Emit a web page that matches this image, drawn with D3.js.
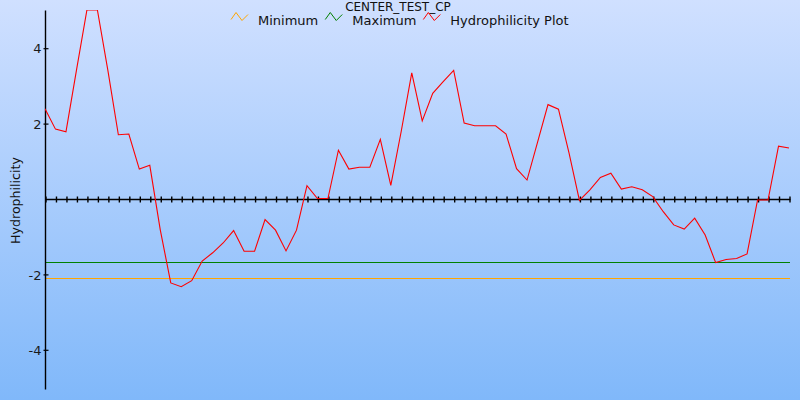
<!DOCTYPE html>
<html>
<head>
<meta charset="utf-8">
<script src="https://cdn.jsdelivr.net/npm/d3@7"></script>
<style>
  html, body { margin: 0; padding: 0; background: #fff; }
  svg { display: block; font-family: "DejaVu Sans", sans-serif; }
</style>
</head>
<body>
<svg id="chart" width="800" height="400"></svg>
<script>
const title = "CENTER_TEST_CP";
const yLabel = "Hydrophilicity";
const seriesNames = ["Minimum", "Maximum", "Hydrophilicity Plot"];
const seriesColors = ["#ffa500", "#008000", "#ff0000"];
const yTicks = [-4, -2, 2, 4];
const yDomain = [-5, 5];
const minimumValue = -2.12;
const maximumValue = -1.69;
const hydro = [
  2.38, 1.84, 1.77, 3.40, 5.00, 5.00, 3.40, 1.69, 1.71, 0.78,
  0.88, -0.83, -2.24, -2.34, -2.18, -1.66, -1.44, -1.18, -0.85, -1.40,
  -1.40, -0.56, -0.84, -1.39, -0.84, 0.34, 0.00, 0.00, 1.28, 0.78,
  0.83, 0.83, 1.57, 0.35, 1.79, 3.33, 2.06, 2.79, 3.10, 3.40,
  2.00, 1.93, 1.93, 1.93, 1.71, 0.79, 0.49, 1.49, 2.49, 2.37,
  1.22, -0.05, 0.23, 0.56, 0.67, 0.25, 0.31, 0.23, 0.05, -0.35,
  -0.70, -0.81, -0.52, -0.97, -1.70, -1.62, -1.59, -1.47, -0.04, -0.04,
  1.39, 1.34
];
const indices = hydro.map((d, i) => i);

const svg = d3.select("#chart");
const W = 800, H = 400;

// background gradient
const defs = svg.append("defs");
const grad = defs.append("linearGradient").attr("id", "bg").attr("x1", 0).attr("y1", 0).attr("x2", 0).attr("y2", 1);
grad.append("stop").attr("offset", "0%").attr("stop-color", "#d0e0ff");
grad.append("stop").attr("offset", "100%").attr("stop-color", "#80b8fa");
svg.append("rect").attr("width", W).attr("height", H).attr("fill", "url(#bg)");

const x = d3.scaleLinear().domain([0, hydro.length - 1]).range([45, 789]);
const y = d3.scaleLinear().domain(yDomain).range([387, 10]);

defs.append("clipPath").attr("id", "plot").append("rect")
  .attr("x", 45).attr("y", 10).attr("width", 750).attr("height", 377);

// threshold lines
svg.append("line").attr("x1", x(0)).attr("x2", 790)
  .attr("y1", Math.round(y(minimumValue)) + 0.5).attr("y2", Math.round(y(minimumValue)) + 0.5)
  .attr("stroke", seriesColors[0]).attr("stroke-width", 1.2);
svg.append("line").attr("x1", x(0)).attr("x2", 790)
  .attr("y1", Math.round(y(maximumValue)) + 0.5).attr("y2", Math.round(y(maximumValue)) + 0.5)
  .attr("stroke", seriesColors[1]).attr("stroke-width", 1.2);

// x axis at zero
const xAxis = d3.axisBottom(x).tickValues(indices).tickFormat("").tickSizeInner(3).tickSizeOuter(0);
const xg = svg.append("g").attr("transform", `translate(0.5,${Math.round(y(0)) + 0.5})`).call(xAxis);
xg.select(".domain").attr("stroke", "#000").attr("stroke-width", 1.6).attr("d", `M${x(0)},0H790`);
xg.selectAll(".tick line").attr("y1", -3).attr("y2", 3).attr("stroke", "#000").attr("stroke-width", 1.4);

// y axis
const yAxis = d3.axisLeft(y).tickValues(yTicks).tickFormat(d => String(d)).tickSizeInner(3).tickSizeOuter(0);
const yg = svg.append("g").attr("transform", `translate(${x(0) + 0.5},0.5)`).call(yAxis);
yg.select(".domain").attr("stroke", "#000").attr("stroke-width", 1.4).attr("d", "M0,10V389");
yg.selectAll(".tick line").attr("x1", -2).attr("x2", 3).attr("stroke", "#000").attr("stroke-width", 1.2);
yg.selectAll(".tick text").attr("x", -4).attr("font-size", 13).attr("font-family", "DejaVu Sans")
  .attr("fill", "#1a1a1a").attr("dy", "0.36em");

// y label
svg.append("text").attr("transform", `translate(20,${(y(0) + 2)}) rotate(-90)`)
  .attr("text-anchor", "middle").attr("font-size", 12.6).attr("fill", "#111")
  .text(yLabel);

// red line
const line = d3.line().x((d, i) => x(i)).y(d => y(d));
svg.append("path").datum(hydro).attr("clip-path", "url(#plot)")
  .attr("d", line).attr("fill", "none").attr("stroke", seriesColors[2]).attr("stroke-width", 1.1);

// title
svg.append("text").attr("x", 398).attr("y", 10.5).attr("text-anchor", "middle")
  .attr("font-size", 12).attr("fill", "#111").text(title);

// legend
const legend = svg.append("g").attr("transform", "translate(231,0)");
let lx = 0;
seriesNames.forEach((name, i) => {
  const g = legend.append("g").attr("transform", `translate(${lx},0)`);
  g.append("polyline").attr("points", "0,19.5 5,12.5 11,20.5 17,14.5")
    .attr("fill", "none").attr("stroke", seriesColors[i]).attr("stroke-width", 1);
  const t = g.append("text").attr("x", 27).attr("y", 24.5).attr("font-size", 13).attr("fill", "#111").text(name);
  const w = t.node().getComputedTextLength();
  lx += 27 + w + 7;
});
</script>
</body>
</html>
